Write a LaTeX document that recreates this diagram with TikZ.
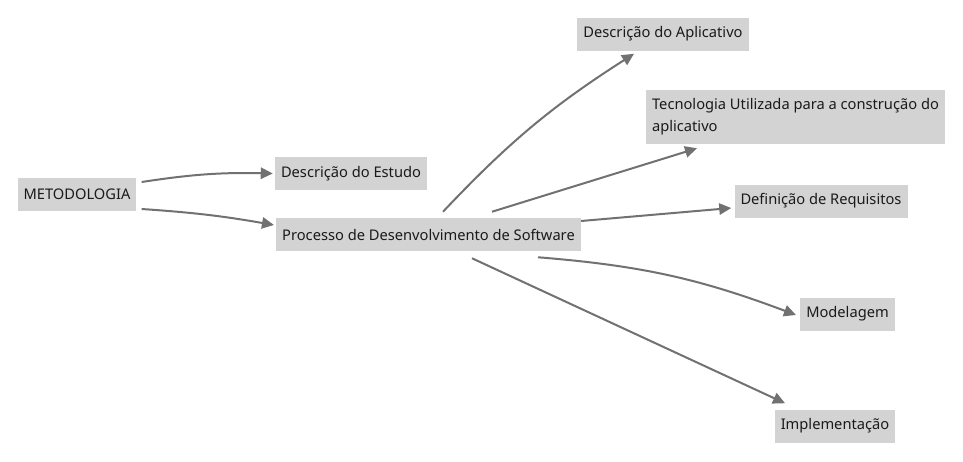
\documentclass[tikz,border=0pt]{standalone}
\usepackage{fontspec}
\setmainfont{Noto Sans}
\usetikzlibrary{arrows.meta,calc}
\definecolor{boxgray}{HTML}{D3D3D3}
\definecolor{linegray}{HTML}{717171}
\definecolor{textgray}{HTML}{1A1A1A}

\begin{document}
\begin{tikzpicture}[
    x=0.75pt, y=-0.75pt,
    box/.style={rectangle, fill=boxgray, text=textgray, inner xsep=4.5pt, inner ysep=0pt, minimum height=24.75pt, font=\fontsize{11}{16.5}\selectfont},
    arrow/.style={-{Triangle[length=9pt,width=8.5pt]}, line width=1.5pt, draw=linegray}
]
    \useasboundingbox (0,0) rectangle (963,461);

    \node[box] (MET) at (77,194.5) {METODOLOGIA};
    \node[box] (DE) at (351,173.5) {Descrição do Estudo};
    \node[box] (PDS) at (428.5,234.5) {Processo de Desenvolvimento de Software};
    \node[box] (DA) at (663,34) {Descrição do Aplicativo};
    \node[box, align=left, minimum height=40.5pt] (TU) at (795.5,117) {Tecnologia Utilizada para a construção do\\aplicativo};
    \node[box] (DR) at (821,201) {Definição de Requisitos};
    \node[box] (MOD) at (847.5,314) {Modelagem};
    \node[box] (IMP) at (835,426) {Implementação};

    \draw[arrow] ($(MET.east)+(5,-12.5)$) to[bend left=5] ($(DE.west)+(-2,0)$);
    \draw[arrow] ($(MET.east)+(5,14.5)$) to[bend left=3] ($(PDS.west)+(-2,-9.5)$);

    \draw[arrow] ($(PDS.north)+(14.5,-6)$) to[bend left=7] ($(DA.south)+(-29,3)$);
    \draw[arrow] ($(PDS.north)+(63.5,-6)$) -- ($(TU.south)+(-98.5,4)$);
    \draw[arrow] ($(PDS.east)+(0,-13.5)$) -- ($(DR.west)+(-3,7)$);
    \draw[arrow] ($(PDS.south)+(109.5,6)$) to[bend left=8] ($(MOD.west)+(-4,1)$);
    \draw[arrow] ($(PDS.south)+(43.5,7)$) -- ($(IMP.north)+(-50,-6)$);
\end{tikzpicture}
\end{document}
